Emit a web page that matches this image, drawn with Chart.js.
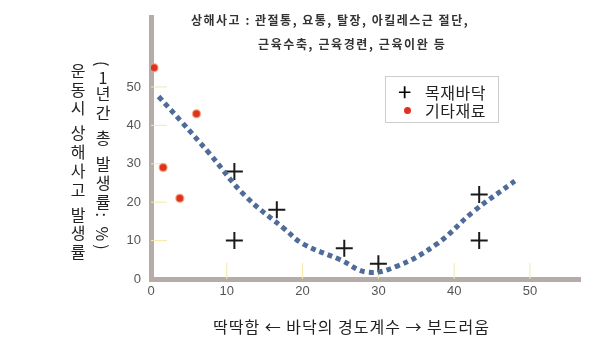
<!DOCTYPE html>
<html>
<head>
<meta charset="utf-8">
<script src="https://cdn.jsdelivr.net/npm/chart.js@4"></script>
<style>
  body { margin: 0; background: #fff; }
  #wrap { position: relative; width: 600px; height: 343px; font-family: "Noto Sans CJK KR", sans-serif; }
  #chart { position: absolute; left: 0; top: 0; }
  .note { position: absolute; font-family: "Noto Sans CJK KR"; font-weight: bold; font-size: 12px; letter-spacing: 1.5px; color: #333; white-space: nowrap; }
  .ytitle { position: absolute; writing-mode: vertical-rl; text-orientation: mixed; font-size: 16px; color: #222; white-space: nowrap; }
  .xtitle { position: absolute; font-size: 16px; letter-spacing: 1px; color: #222; white-space: nowrap; }
  #legend { position: absolute; left: 385px; top: 76px; width: 114px; height: 47px; border: 1px solid #ccc; background: #fff; box-sizing: border-box; }
  #legend div { position: absolute; left: 39px; font-size: 16px; letter-spacing: 0.5px; color: #222; line-height: 18px; }
  #legend span { position: absolute; }
</style>
</head>
<body>
<div id="wrap">
  <canvas id="chart" width="600" height="343"></canvas>
  <div class="note" style="left:191px; top:11px;">상해사고 : 관절통, 요통, 탈장, 아킬레스근 절단,</div>
  <div class="note" style="left:258px; top:35px; letter-spacing:1.6px;">근육수축, 근육경련, 근육이완 등</div>
  <div class="ytitle" style="left:66px; top:63px; letter-spacing:2.7px;">운동시 상해사고 발생률</div>
  <div class="ytitle" style="left:91px; top:61px; letter-spacing:3px;">(<span style="text-combine-upright:all">1</span>년간 총 발생률: %)</div>
  <div class="xtitle" style="left:213px; top:314px;">딱딱함 ← 바닥의 경도계수 → 부드러움</div>
  <div id="legend">
    <span style="left:12px; top:5px; font-size:24px; line-height:18px; font-weight:400;">+</span>
    <span style="left:18px; top:30px; width:7px; height:7px; border-radius:50%; background:#e0301e;"></span>
    <div style="top:6px;">목재바닥</div>
    <div style="top:24px;">기타재료</div>
  </div>
</div>
<script>
// 목재바닥 (나무 바닥) 측정점
const woodX = [11, 11, 16.6, 25.5, 30, 43.3, 43.3];
const woodY = [28, 10, 18, 8, 4, 22, 10];

// 기타재료 측정점
const otherX = [0.4, 1.6, 3.8, 6];
const otherY = [55, 29, 21, 43];

// 추세 곡선 (점선)
const trendX = [1, 4, 7.7, 12.4, 17.7, 20, 25, 28.5, 32.4, 37.7, 42.5, 48];
const trendY = [47.5, 41, 32.7, 21.7, 12.9, 9.2, 5, 1.8, 3.3, 9.1, 17.5, 25.5];

// 축 눈금
const xTicks = [0, 10, 20, 30, 40, 50];
const yTicks = [0, 10, 20, 30, 40, 50];

const toPoints = (xs, ys) => xs.map((x, i) => ({ x: x, y: ys[i] }));

// 축 안쪽의 노란 짧은 눈금선
const innerTicks = {
    id: 'innerTicks',
    beforeDatasetsDraw(chart) {
        const { ctx, scales } = chart;
        const xs = scales.x, ys = scales.y;
        ctx.save();
        ctx.strokeStyle = '#f3e9a8';
        ctx.lineWidth = 1;
        yTicks.forEach(v => {
            if (v === 0) return;
            const py = ys.getPixelForValue(v);
            ctx.beginPath();
            ctx.moveTo(xs.left, py);
            ctx.lineTo(xs.left + 16, py);
            ctx.stroke();
        });
        xTicks.forEach(v => {
            if (v === 0) return;
            const px = xs.getPixelForValue(v);
            ctx.beginPath();
            ctx.moveTo(px, ys.bottom);
            ctx.lineTo(px, ys.bottom - 16);
            ctx.stroke();
        });
        ctx.restore();
    }
};

const onlyTicks = list => scale => {
    scale.ticks = list.map(v => ({ value: v }));
};

new Chart(document.getElementById('chart'), {
    type: 'scatter',
    data: {
        datasets: [{
            label: '추세',
            type: 'line',
            data: toPoints(trendX, trendY),
            borderColor: '#4f6b99',
            borderWidth: 5,
            borderDash: [5, 4],
            pointRadius: 0,
            tension: 0.4,
            fill: false
        }, {
            label: '목재바닥',
            data: toPoints(woodX, woodY),
            pointStyle: 'cross',
            pointRadius: 8.5,
            borderColor: '#1a1a1a',
            borderWidth: 2
        }, {
            label: '기타재료',
            data: toPoints(otherX, otherY),
            pointStyle: 'circle',
            pointRadius: 4,
            backgroundColor: '#e0301e',
            borderColor: 'rgba(245,170,130,0.7)',
            borderWidth: 1.5
        }]
    },
    options: {
        responsive: false,
        animation: false,
        layout: { padding: { left: 0, top: 10, right: 20, bottom: 0 } },
        plugins: {
            legend: { display: false },
            tooltip: { enabled: false }
        },
        scales: {
            x: {
                type: 'linear',
                min: 0,
                max: 56.6,
                afterBuildTicks: onlyTicks(xTicks),
                afterFit: s => { s.height = 64; },
                grid: { display: false, drawTicks: false },
                border: { color: '#b5aca8', width: 5 },
                ticks: { padding: 5, color: '#555', font: { family: 'Liberation Sans', size: 13 } }
            },
            y: {
                min: 0,
                max: 68,
                afterBuildTicks: onlyTicks(yTicks),
                afterFit: s => { s.width = 151; },
                grid: { display: false, drawTicks: false },
                border: { color: '#b5aca8', width: 5 },
                ticks: { padding: 10, color: '#555', font: { family: 'Liberation Sans', size: 13 } }
            }
        }
    },
    plugins: [innerTicks]
});
</script>
</body>
</html>
